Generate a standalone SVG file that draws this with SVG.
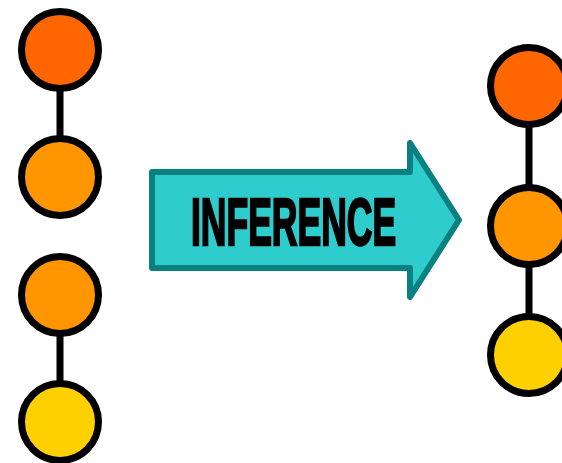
<svg xmlns="http://www.w3.org/2000/svg" width="562" height="463" viewBox="0 0 562 463">
  <style>
    .link { stroke: #000; stroke-width: 7; fill: none; }
    .node { stroke: #000; stroke-width: 7; }
    .c1 { fill: #FF6600; }
    .c2 { fill: #FF9500; }
    .c3 { fill: #FFD000; }
    .arrow { fill: #2ECCCC; stroke: #0B8080; stroke-width: 6; stroke-linejoin: round; }
    .label { font-family: "Liberation Sans", Arial, sans-serif; font-weight: bold; font-size: 67px; fill: #000; stroke: #000; stroke-width: 2.5; }
  </style>
  <rect width="562" height="463" fill="#FFFFFF"/>

  <g id="connectors">
    <line class="link" x1="60" y1="50" x2="60" y2="177"/>
    <line class="link" x1="60" y1="295" x2="60" y2="422"/>
    <line class="link" x1="529" y1="86" x2="529" y2="355"/>
  </g>

  <g id="left-a-top"><circle class="node c1" cx="60" cy="50" r="38.5"/></g>
  <g id="left-a-bottom"><circle class="node c2" cx="60" cy="177" r="38.5"/></g>
  <g id="left-b-top"><circle class="node c2" cx="60" cy="295" r="38.5"/></g>
  <g id="left-b-bottom"><circle class="node c3" cx="60" cy="422" r="38.5"/></g>

  <g id="inference-arrow">
    <path class="arrow" d="M152 172 L410 172 L410 143 L459 220 L410 297 L410 268 L152 268 Z"/>
    <!-- condensed lettering: horizontal squeeze of a bold sans -->
    <text class="label" transform="translate(191 245) scale(0.53 1)" x="0" y="0">INFERENCE</text>
  </g>

  <g id="right-top"><circle class="node c1" cx="529" cy="86" r="38.5"/></g>
  <g id="right-middle"><circle class="node c2" cx="529" cy="226" r="38.5"/></g>
  <g id="right-bottom"><circle class="node c3" cx="529" cy="355" r="38.5"/></g>
</svg>
